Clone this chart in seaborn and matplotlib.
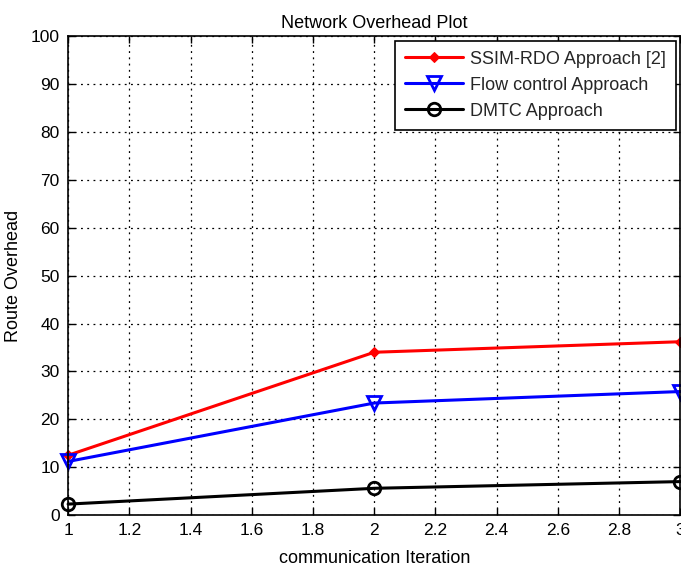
import matplotlib
matplotlib.use("Agg")
import matplotlib.pyplot as plt
import seaborn as sns
import pandas as pd

iterations = [1, 2, 3]
ssim_rdo = [12.5, 34.0, 36.2]
flow_control = [11.2, 23.4, 25.8]
dmtc = [2.3, 5.6, 7.0]
x_ticks = [1, 1.2, 1.4, 1.6, 1.8, 2, 2.2, 2.4, 2.6, 2.8, 3]
x_tick_labels = ["1", "1.2", "1.4", "1.6", "1.8", "2", "2.2", "2.4", "2.6", "2.8", "3"]
y_ticks = list(range(0, 101, 10))

sns.set_theme(style="white")
plt.rcParams["font.family"] = ["Liberation Sans", "DejaVu Sans"]

fig = plt.figure(figsize=(6.81, 5.73), dpi=100)
ax = fig.add_axes([0.1, 0.101, 0.899, 0.836])

series = [
    ("SSIM-RDO Approach [2]", ssim_rdo, "red", dict(marker="D", markersize=5.5, markerfacecolor="red", markeredgecolor="red")),
    ("Flow control Approach", flow_control, "blue", dict(marker="v", markersize=10, markerfacecolor="none", markeredgecolor="blue", markeredgewidth=2)),
    ("DMTC Approach", dmtc, "black", dict(marker="o", markersize=9, markerfacecolor="none", markeredgecolor="black", markeredgewidth=2)),
]
for name, vals, color, mk in series:
    df = pd.DataFrame({"x": iterations, "y": vals})
    sns.lineplot(data=df, x="x", y="y", ax=ax, color=color, linewidth=2.2,
                 label=name, clip_on=False, **mk)

ax.set_xlim(1, 3)
ax.set_ylim(0, 100)
ax.set_xticks(x_ticks)
ax.set_xticklabels(x_tick_labels)
ax.set_yticks(y_ticks)
ax.tick_params(direction="in", length=5, width=1, labelsize=12.5, colors="black",
               top=True, right=True, bottom=True, left=True, pad=6)
ax.grid(True, linestyle=(0, (1.5, 3.5)), color="black", linewidth=0.9)
for s in ax.spines.values():
    s.set_color("black")
    s.set_linewidth(1.2)

ax.set_xlabel("communication Iteration", fontsize=13, color="black", labelpad=8)
ax.set_ylabel("Route Overhead", fontsize=13, color="black", labelpad=6)
ax.set_title("Network Overhead Plot", fontsize=13, color="black", pad=6)

leg = ax.legend(loc="upper right", fontsize=13, frameon=True, fancybox=False,
                edgecolor="black", borderpad=0.55, handlelength=3.2,
                handletextpad=0.4, labelspacing=0.5, borderaxespad=0.25)
leg.get_frame().set_linewidth(1.2)
leg.get_frame().set_alpha(1)

fig.savefig("out.png", dpi=100)
